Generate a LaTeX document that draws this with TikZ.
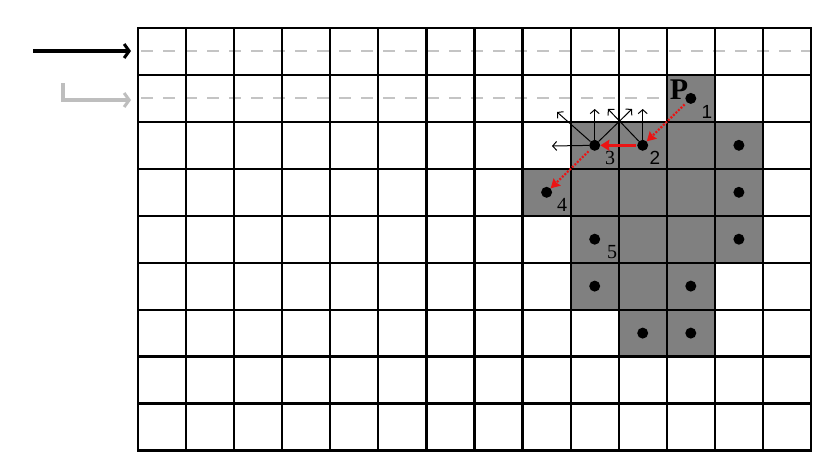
\documentclass[tikz,border=0pt]{standalone}
\usepackage{fontspec}
\setmainfont{Liberation Serif}
\newfontfamily\sansf{Liberation Sans}
\usetikzlibrary{arrows.meta}
\definecolor{cellgray}{RGB}{128,128,128}
\definecolor{dashgray}{RGB}{196,196,196}
\definecolor{arrgray}{RGB}{190,190,190}
\definecolor{redarr}{RGB}{235,20,20}
\begin{document}
\begin{tikzpicture}[x=1pt,y=-1pt,
  dot/.style={circle,fill=black,inner sep=0pt,minimum size=11pt},
  lab/.style={inner sep=0pt,font=\fontsize{20}{20}\selectfont},
  slab/.style={inner sep=0pt,font=\sansf\fontsize{19}{19}\selectfont},
  gridline/.style={line width=2.2pt,line cap=rect},
  guide/.style={dashgray,line width=2pt,dash pattern=on 12pt off 10pt},
  nb/.style={line width=1pt,-{Straight Barb[length=4pt,width=9pt]}},
  redd/.style={draw=redarr,line width=2.2pt,dash pattern=on 2pt off 1.5pt,-{Stealth[length=9pt,width=10pt,inset=1pt]}},
  reds/.style={draw=redarr,line width=3pt,-{Stealth[length=9pt,width=11pt,inset=1pt]}},
  bigarrow/.style={line width=3.4pt,-{Straight Barb[length=5pt,width=14pt,line width=3pt]}}]
\useasboundingbox[fill=white] (0,0) rectangle (838,469);
% gray cells
\foreach \c/\r in {11/1, 9/2,10/2,11/2,12/2, 8/3,9/3,10/3,11/3,12/3, 9/4,10/4,11/4,12/4, 9/5,10/5,11/5, 10/6,11/6}
  \fill[cellgray] ({138+48.07*\c},{28+46.94*\r}) rectangle ++(48.07,46.94);
% guide dashes
\coordinate (g0a) at (141,51);
\coordinate (g0b) at (810,51);
\coordinate (g1a) at (141,98);
\coordinate (g1b) at (665,98);
\draw[guide] (g0a) -- (g0b);
\draw[guide] (g1a) -- (g1b);
% grid
\foreach \i in {0,...,14}
  \draw[gridline] ({138+48.07*\i},28) -- ({138+48.07*\i},450.5);
\foreach \j in {0,...,9}
  \draw[gridline] (138,{28+46.94*\j}) -- (811,{28+46.94*\j});
% dots
\node[dot] (d1) at (690.8,98.4) {};
\node[dot] (d2) at (642.7,145.3) {};
\node[dot] (d3) at (594.7,145.3) {};
\node[dot] (d4) at (546.6,192.3) {};
\node[dot] (d5) at (594.7,239.2) {};
\node[dot] (e1) at (738.9,145.3) {};
\node[dot] (e2) at (738.9,192.3) {};
\node[dot] (e3) at (738.9,239.2) {};
\node[dot] (e4) at (594.7,286.1) {};
\node[dot] (e5) at (690.8,286.1) {};
\node[dot] (e6) at (642.7,333.1) {};
\node[dot] (e7) at (690.8,333.1) {};
% labels
\node[inner sep=0pt,font=\bfseries\fontsize{30}{30}\selectfont] (lp) at (679,90) {P};
\node[slab] (l1) at (707,112) {1};
\node[slab] (l2) at (655,158) {2};
\node[lab] (l3) at (610,158) {3};
\node[lab] (l4) at (562,205) {4};
\node[lab] (l5) at (612,252) {5};
% neighbour arrows
\coordinate (n3l) at (552,146);
\coordinate (n3ul) at (557,112);
\coordinate (n3u) at (594.7,109);
\coordinate (n3ur) at (632,109);
\coordinate (n2ul) at (608,109);
\coordinate (n2u) at (642.7,109);
\draw[nb] (d3) -- (n3l);
\draw[nb] (d3) -- (n3ul);
\draw[nb] (d3) -- (n3u);
\draw[nb] (d3) -- (n3ur);
\draw[nb] (d2) -- (n2ul);
\draw[nb] (d2) -- (n2u);
% red path arrows
\draw[redd,shorten <=3pt] (d1) -- (d2);
\draw[reds,shorten <=1pt] (d2) -- (d3);
\draw[redd,shorten <=3pt] (d3) -- (d4);
% scan arrows at left
\coordinate (ba) at (33,51);
\coordinate (bb) at (131,51);
\draw[bigarrow] (ba) -- (bb);
\coordinate (ga) at (63,83);
\coordinate (gb) at (131,100);
\draw[bigarrow,arrgray] (ga) |- (gb);
\end{tikzpicture}
\end{document}
